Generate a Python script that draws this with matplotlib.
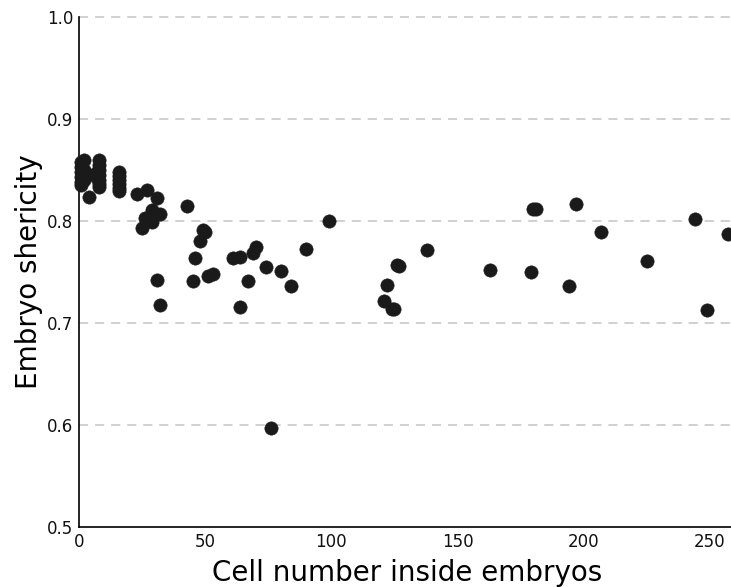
import matplotlib
matplotlib.use("Agg")
import matplotlib.pyplot as plt

# Data
cell_number = [
    1, 1, 1, 1, 1, 1,
    2, 2, 2, 2, 3,
    4,
    7, 7,
    8, 8, 8, 8, 8, 8, 8,
    16, 16, 16, 16, 16, 16,
    23, 27, 31, 43,
    26, 29, 32, 25, 29, 27,
    49, 50, 48, 46, 31, 45, 32, 51, 53, 61, 64, 64, 67, 69, 70,
    74, 80, 84, 90, 99, 76,
    181, 180, 138, 127, 126, 122, 121, 125, 124, 163, 179,
    197, 207, 244, 257, 225, 194, 249,
]
sphericity = [
    0.858, 0.853, 0.848, 0.843, 0.838, 0.835,
    0.860, 0.850, 0.845, 0.840, 0.846,
    0.824,
    0.848, 0.842,
    0.860, 0.855, 0.850, 0.845, 0.840, 0.836, 0.833,
    0.848, 0.844, 0.840, 0.836, 0.832, 0.829,
    0.827, 0.830, 0.8225, 0.815,
    0.803, 0.811, 0.807, 0.793, 0.799, 0.801,
    0.791, 0.789, 0.780, 0.764, 0.742, 0.741, 0.718, 0.746, 0.748, 0.764, 0.765, 0.716, 0.741, 0.769, 0.7745,
    0.755, 0.751, 0.736, 0.7725, 0.800, 0.597,
    0.812, 0.812, 0.772, 0.756, 0.757, 0.737, 0.722, 0.714, 0.714, 0.752, 0.750,
    0.817, 0.789, 0.802, 0.787, 0.761, 0.736, 0.713,
]

x_ticks = [0, 50, 100, 150, 200, 250]
y_ticks = [0.5, 0.6, 0.7, 0.8, 0.9, 1.0]

fig = plt.figure(figsize=(7.31, 5.87), dpi=100)
ax = fig.add_axes([0.108, 0.102, 0.8977, 0.869])

ax.scatter(cell_number, sphericity, s=92, color="#1a1a1a", edgecolors="#1a1a1a",
           linewidths=0.4, zorder=3, clip_on=False)

ax.set_xlim(0, 260)
ax.set_ylim(0.5, 1.0)
ax.set_xticks(x_ticks)
ax.set_yticks(y_ticks)
ax.set_xticklabels([str(t) for t in x_ticks])
ax.set_yticklabels([f"{t:.1f}" for t in y_ticks])
ax.tick_params(length=0, labelsize=12, pad=4, colors="#111111")

for v in y_ticks[1:]:
    ax.axhline(v, color="#c4c4c4", lw=1.1, ls=(0, (6, 4.5)), zorder=1, clip_on=False)

for s in ["top", "right"]:
    ax.spines[s].set_visible(False)
for s in ["left", "bottom"]:
    ax.spines[s].set_linewidth(1.2)
    ax.spines[s].set_color("black")

ax.set_xlabel("Cell number inside embryos", fontsize=20, labelpad=6)
ax.set_ylabel("Embryo shericity", fontsize=20, labelpad=3)

fig.savefig("out.png", dpi=100)
